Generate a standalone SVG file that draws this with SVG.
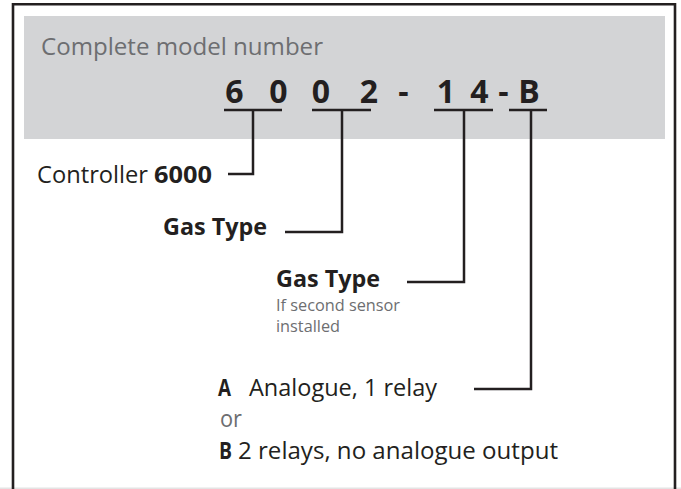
<svg xmlns="http://www.w3.org/2000/svg" width="681" height="489" viewBox="0 0 681 489">
<style>
.t{font-family:"Open Sans","Liberation Sans",sans-serif;fill:#231f20}
.b{font-weight:bold}
.g{fill:#6d6e71}
.ln{fill:none;stroke:#231f20;stroke-width:2.5}
.dg{font-family:"Open Sans","Liberation Sans",sans-serif;font-weight:bold;font-size:32px;fill:#231f20;text-anchor:middle}
</style>
<rect x="0" y="0" width="681" height="489" fill="#ffffff"/>
<rect x="0" y="487.5" width="681" height="1.5" fill="#e4e4e4"/>
<path d="M13,489 V4.3 H675 V489" fill="none" stroke="#231f20" stroke-width="2.6"/>
<g id="header">
<rect x="24" y="16" width="641" height="123" fill="#d3d4d6"/>
<text class="t g" x="41" y="55" font-size="24" textLength="282" lengthAdjust="spacingAndGlyphs">Complete model number</text>
</g>
<g id="model-number">
<text class="dg" x="234.5" y="103">6</text>
<text class="dg" x="278.5" y="103">0</text>
<text class="dg" x="321" y="103">0</text>
<text class="dg" x="369" y="103">2</text>
<text class="dg" x="403.5" y="103">-</text>
<text class="dg" x="446" y="103">1</text>
<text class="dg" x="479.5" y="103">4</text>
<text class="dg" x="503.5" y="103">-</text>
<text class="dg" x="529" y="103">B</text>
</g>
<g id="connectors">
<path class="ln" d="M224,110 H282 M253,110 V174 H228"/>
<path class="ln" d="M312,110 H371 M342,110 V232 H285"/>
<path class="ln" d="M434,110 H493 M464,110 V282 H407"/>
<path class="ln" d="M509,110 H547 M531,110 V389 H474"/>
</g>
<g id="controller">
<text class="t" x="37" y="183" font-size="24" textLength="111" lengthAdjust="spacingAndGlyphs">Controller</text>
<text class="t b" x="154" y="183" font-size="24" textLength="58" lengthAdjust="spacingAndGlyphs">6000</text>
</g>
<g id="gas-type-1">
<text class="t b" x="163" y="235" font-size="23" textLength="104" lengthAdjust="spacingAndGlyphs">Gas Type</text>
</g>
<g id="gas-type-2">
<text class="t b" x="276" y="287" font-size="23" textLength="104" lengthAdjust="spacingAndGlyphs">Gas Type</text>
<text class="t g" x="276" y="311" font-size="17" textLength="124" lengthAdjust="spacingAndGlyphs">If second sensor</text>
<text class="t g" x="276" y="332" font-size="17" textLength="64" lengthAdjust="spacingAndGlyphs">installed</text>
</g>
<g id="output-option">
<text class="t b" x="218" y="396" font-size="23" textLength="13" lengthAdjust="spacingAndGlyphs">A</text>
<text class="t" x="249" y="396" font-size="23" textLength="188" lengthAdjust="spacingAndGlyphs">Analogue, 1 relay</text>
<text class="t g" x="220" y="427" font-size="23" textLength="22" lengthAdjust="spacingAndGlyphs">or</text>
<text class="t b" x="219" y="459" font-size="23" textLength="13" lengthAdjust="spacingAndGlyphs">B</text>
<text class="t" x="238" y="459" font-size="23" textLength="320" lengthAdjust="spacingAndGlyphs">2 relays, no analogue output</text>
</g>
</svg>
